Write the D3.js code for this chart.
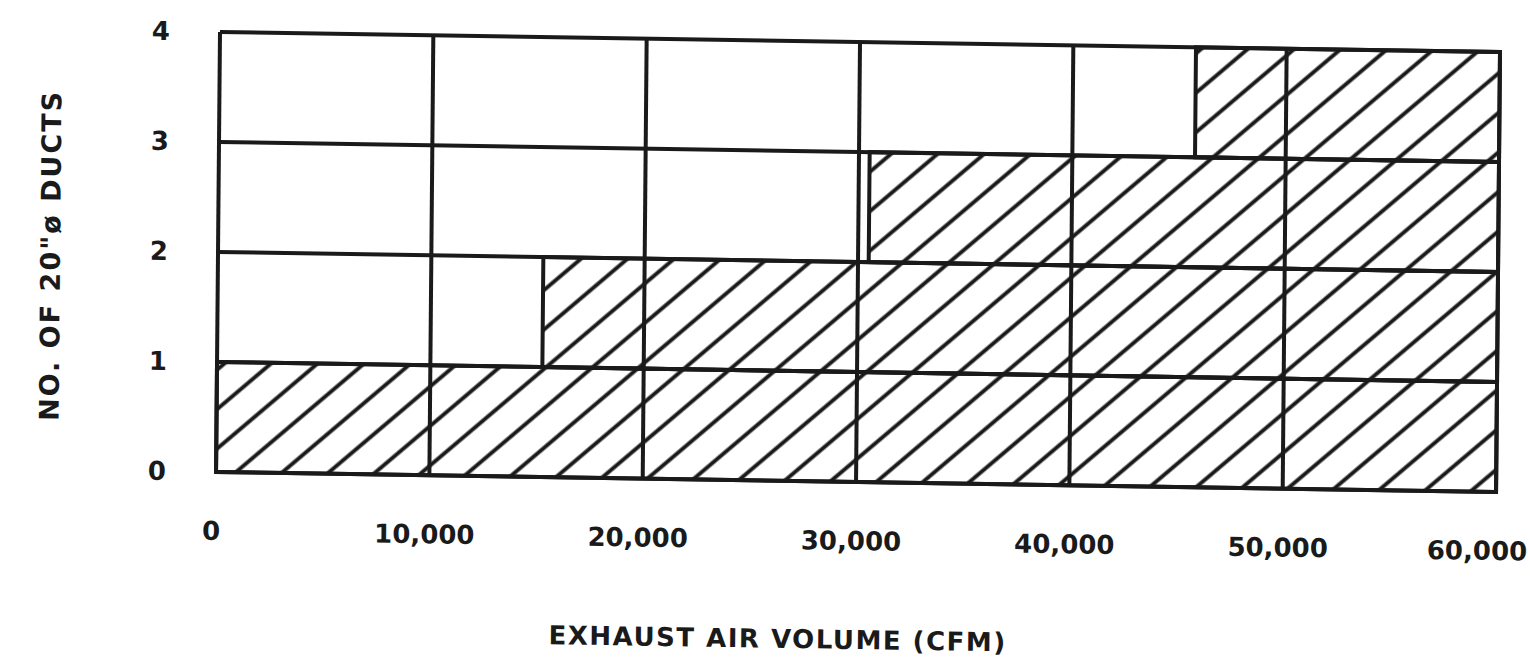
<!DOCTYPE html>
<html>
<head>
<meta charset="utf-8">
<script src="https://cdn.jsdelivr.net/npm/d3@7"></script>
<style>
    body { margin: 0; background: #fff; }
    text { font-family: "DejaVu Sans", sans-serif; fill: #1a1a1a; font-weight: bold; }
</style>
</head>
<body>
<svg id="chart" width="1530" height="659"></svg>
<script>
    // Chart values
    var xTicks = [0, 10000, 20000, 30000, 40000, 50000, 60000];
    var yTicks = [0, 1, 2, 3, 4];
    var ductCounts = [1, 2, 3, 4];               // band top for each duct count
    var hatchStart = [0, 15250, 30500, 45750];   // cfm where each band becomes hatched
    var xMax = 60000;
    var xTitle = 'EXHAUST AIR VOLUME (CFM)';
    var yTitle = 'NO. OF 20"\u00f8 DUCTS';

    var margin = {left: 220, top: 32};
    var width = 1280;
    var height = 440;
    var ink = '#1a1a1a';

    var svg = d3.select('svg#chart');

    // Hatch pattern, lines rising to the right
    var defs = svg.append('defs');
    var pat = defs.append('pattern')
        .attr('id', 'hatch')
        .attr('patternUnits', 'userSpaceOnUse')
        .attr('width', 40)
        .attr('height', 30)
        .attr('patternTransform', 'rotate(-41)');
    pat.append('line')
        .attr('x1', 0).attr('x2', 40)
        .attr('y1', 15).attr('y2', 15)
        .attr('stroke', ink)
        .attr('stroke-width', 3.8);

    // The scan is a little skewed, so the whole drawing is too
    var g = svg.append('g')
        .attr('transform', 'translate(' + margin.left + ',' + margin.top + ') matrix(1,0.0156,-0.009,1,0,0)');

    var x = d3.scaleLinear().domain([0, xMax]).range([0, width]);
    var y = d3.scaleLinear().domain([0, 4]).range([height, 0]);

    // Hatched bands
    g.selectAll('.band')
        .data(ductCounts)
        .enter().append('rect')
            .attr('class', 'band')
            .attr('x', function(d, i) { return x(hatchStart[i]); })
            .attr('y', function(d) { return y(d); })
            .attr('width', function(d, i) { return x(xMax) - x(hatchStart[i]); })
            .attr('height', function(d) { return y(d - 1) - y(d); })
            .attr('fill', 'url(#hatch)')
            .attr('stroke', ink)
            .attr('stroke-width', 4);

    // Grid lines
    g.selectAll('.vline')
        .data(xTicks)
        .enter().append('line')
            .attr('class', 'vline')
            .attr('x1', function(d) { return x(d); })
            .attr('x2', function(d) { return x(d); })
            .attr('y1', 0).attr('y2', height)
            .attr('stroke', ink)
            .attr('stroke-width', 4);

    g.selectAll('.hline')
        .data(yTicks)
        .enter().append('line')
            .attr('class', 'hline')
            .attr('x1', 0).attr('x2', width)
            .attr('y1', function(d) { return y(d); })
            .attr('y2', function(d) { return y(d); })
            .attr('stroke', ink)
            .attr('stroke-width', 4);

    // Axes, used only for their labels
    var xAxis = d3.axisBottom(x)
        .tickValues(xTicks)
        .tickSize(0)
        .tickPadding(0)
        .tickFormat(d3.format(','));
    var xg = g.append('g')
        .attr('transform', 'translate(-5,' + (height + 68) + ')')
        .call(xAxis);
    xg.select('.domain').remove();
    xg.selectAll('text')
        .attr('dy', 0)
        .attr('dx', function(d) { return d === xMax ? -14 : 0; })
        .style('font-size', '26px')
        .attr('fill', ink);

    var yAxis = d3.axisLeft(y)
        .tickValues(yTicks)
        .tickSize(0)
        .tickPadding(0)
        .tickFormat(d3.format('d'));
    var yg = g.append('g')
        .attr('transform', 'translate(-50,0)')
        .call(yAxis);
    yg.select('.domain').remove();
    yg.selectAll('text')
        .style('font-size', '26px')
        .attr('fill', ink);

    // Titles
    g.append('text')
        .attr('x', 563)
        .attr('y', 607)
        .attr('text-anchor', 'middle')
        .style('font-size', '26px')
        .style('letter-spacing', '1.5px')
        .text(xTitle);

    g.append('text')
        .attr('transform', 'translate(-158,' + 226 + ') rotate(-90)')
        .attr('text-anchor', 'middle')
        .style('font-size', '27px')
        .style('letter-spacing', '2px')
        .text(yTitle);
</script>
</body>
</html>
